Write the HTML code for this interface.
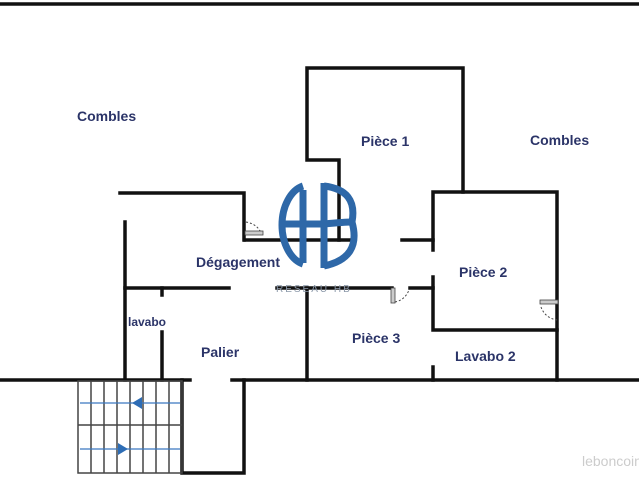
<!DOCTYPE html>
<html><head><meta charset="utf-8"><style>
body{margin:0;background:#fff;}
svg{display:block}
text{font-family:"Liberation Sans",sans-serif;font-weight:bold;fill:#2b3468;font-size:14px}
</style></head><body>
<svg width="639" height="480" viewBox="0 0 639 480" xmlns="http://www.w3.org/2000/svg">
<g stroke="#111" stroke-width="3.5" fill="none" stroke-linecap="square">
<line x1="0" y1="4" x2="639" y2="4"/>
<polyline points="339,240 339,160 307,160 307,68 463,68 463,192"/>
<polyline points="433,250 433,192 557,192 557,380"/>
<polyline points="433,277 433,330 557,330"/>
<line x1="245" y1="240" x2="355" y2="240"/>
<line x1="402" y1="240" x2="433" y2="240"/>
<polyline points="120,193 244,193 244,240"/>
<line x1="125" y1="222" x2="125" y2="380"/>
<line x1="125" y1="288" x2="229" y2="288"/>
<line x1="277" y1="288" x2="392" y2="288"/>
<line x1="410" y1="288" x2="433" y2="288"/>
<line x1="162" y1="288" x2="162" y2="295"/>
<line x1="162" y1="332" x2="162" y2="380"/>
<line x1="307" y1="288" x2="307" y2="380"/>
<line x1="433" y1="367" x2="433" y2="380"/>
<line x1="0" y1="380" x2="190" y2="380"/>
<line x1="232" y1="380" x2="639" y2="380"/>
<polyline points="182,380 182,473 244,473 244,380"/>
</g>
<g stroke="#444" stroke-width="1.5" fill="none">
<rect x="78" y="381" width="104" height="92"/>
<line x1="78" y1="425" x2="182" y2="425"/>
<line x1="91" y1="381" x2="91" y2="425"/><line x1="104" y1="381" x2="104" y2="425"/><line x1="117" y1="381" x2="117" y2="425"/><line x1="130" y1="381" x2="130" y2="425"/><line x1="143" y1="381" x2="143" y2="425"/><line x1="156" y1="381" x2="156" y2="425"/><line x1="169" y1="381" x2="169" y2="425"/>
<line x1="91" y1="425" x2="91" y2="473"/><line x1="104" y1="425" x2="104" y2="473"/><line x1="117" y1="425" x2="117" y2="473"/><line x1="130" y1="425" x2="130" y2="473"/><line x1="143" y1="425" x2="143" y2="473"/><line x1="156" y1="425" x2="156" y2="473"/><line x1="169" y1="425" x2="169" y2="473"/>
</g>
<g stroke="#3a78c0" stroke-width="1.2">
<line x1="80" y1="403" x2="180" y2="403"/><line x1="80" y1="449" x2="180" y2="449"/>
</g>
<polygon points="132,403 142,397 142,409" fill="#2e6db5"/>
<polygon points="128,449 118,443 118,455" fill="#2e6db5"/>
<g stroke="#444" stroke-width="1" fill="none" stroke-dasharray="2,2">
<path d="M246,222 Q258,224 262,235"/>
<path d="M395,302 Q405,300 409,290"/>
<path d="M541,307 Q545,318 557,320"/>
</g>
<rect x="245" y="231" width="18" height="4" fill="#ccc" stroke="#444" stroke-width="0.8"/>
<rect x="391" y="288" width="4" height="15" fill="#ccc" stroke="#444" stroke-width="0.8"/>
<rect x="540" y="300" width="18" height="4" fill="#ccc" stroke="#444" stroke-width="0.8"/>
<g stroke="#2e68a8" stroke-width="7" fill="none">
<path d="M303,186 A27,40 0 0 0 303,264"/>
<line x1="303" y1="190" x2="303" y2="263"/>
<line x1="324" y1="183" x2="324" y2="268"/>
<line x1="282" y1="224" x2="324" y2="224"/>
<path d="M324,186 Q358,190 352,222 Q362,258 324,266"/>
<path d="M324,224 Q345,222 352,222"/>
</g>
<text x="276" y="292" style="font-size:10px;font-weight:normal;fill:#8a97a8;letter-spacing:2px">RESEAU HB</text>
<text x="77" y="121">Combles</text>
<text x="361" y="146">Pièce 1</text>
<text x="530" y="145">Combles</text>
<text x="196" y="267">Dégagement</text>
<text x="459" y="277">Pièce 2</text>
<text x="128" y="326" style="font-size:12px">lavabo</text>
<text x="201" y="357">Palier</text>
<text x="352" y="343">Pièce 3</text>
<text x="455" y="361">Lavabo 2</text>
<text x="582" y="466" style="font-weight:normal;fill:#ccc;font-size:14px">leboncoin</text>
</svg>
</body></html>
